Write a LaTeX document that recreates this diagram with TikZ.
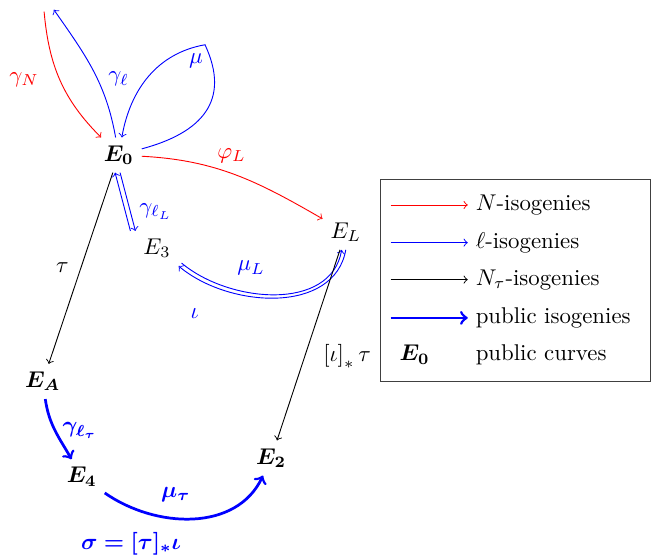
\documentclass[tikz,border=0pt]{standalone}
\usepackage{amsmath,amssymb,bm}

\begin{document}
\begin{tikzpicture}[nis/.style={->,red},lis/.style={->,blue},tis/.style={->,black},pub/.style={->,blue,very thick}]
  \useasboundingbox (0,0) rectangle (10.05,8.58);
  \node (E0) at (1.83,6.19) {$\bm{E_0}$};
  \node (E3) at (2.42,4.75) {$E_3$};
  \node (EL) at (5.33,5.00) {$E_L$};
  \node (EA) at (0.66,2.70) {$\bm{E_A}$};
  \node (E4) at (1.26,1.23) {$\bm{E_4}$};
  \node (E2) at (4.18,1.52) {$\bm{E_2}$};
  \coordinate (nN) at (0.68,8.40);
  \coordinate (nL) at (0.83,8.43);
  \coordinate (mtop) at (3.16,7.89);
  % secret part
  \draw[nis] (nN) to[out=-85,in=135] (E0);
  \draw[lis] (E0) to[out=100,in=-55] (nL);
  \draw[lis] (E0) to[out=15,in=-65,looseness=1.3] (mtop) to[out=190,in=80] (E0);
  \draw[nis] (E0) to[out=-3,in=150] (EL);
  \draw[lis] ([xshift=-2.2pt]E3.north west) -- ([xshift=-1.6pt]E0.south);
  \draw[lis] ([xshift=0.6pt]E0.south) -- (E3.north west);
  \draw[lis] (EL.south) to[out=-100,in=-40] (E3.south east);
  \draw[lis] ([shift={(1.3pt,1.3pt)}]E3.south east) to[out=-40,in=-100] ([xshift=-1.8pt]EL.south);
  \draw[tis] (E0) -- (EA);
  \draw[tis] (EL) -- (E2);
  % public part
  \draw[pub] (EA) to[out=-82,in=120] (E4);
  \draw[pub] (E4) to[out=-35,in=-115] (E2);
  % labels
  \node[red] (lgN) at (0.37,7.35) {$\gamma_N$};
  \node[blue] (lgl) at (1.83,7.36) {$\gamma_\ell$};
  \node[blue] (lmu) at (3.02,7.64) {$\mu$};
  \node[red] (lphi) at (3.57,6.18) {$\varphi_L$};
  \node[blue] (lglL) at (2.40,5.32) {$\gamma_{\ell_L}$};
  \node[blue] (lmuL) at (3.87,4.45) {$\mu_L$};
  \node[blue] (liota) at (3.00,3.74) {$\iota$};
  \node (ltau) at (0.96,4.45) {$\tau$};
  \node (lit) at (5.35,3.09) {$\left[\iota\right]_*\tau$};
  \node[blue] (lglt) at (1.23,1.94) {$\bm{\gamma_{\ell_\tau}}$};
  \node[blue] (lmut) at (2.71,0.96) {$\bm{\mu_\tau}$};
  \node[blue] (lsig) at (2.02,0.20) {$\bm{\sigma=[\tau]_*\iota}$};
  % legend
  \draw[black!75] (5.87,2.70) rectangle (10.03,5.82);
  \node[anchor=west] (t1) at (7.21,5.42) {$N$-isogenies};
  \node[anchor=west] (t2) at (7.21,4.84) {$\ell$-isogenies};
  \node[anchor=west] (t3) at (7.21,4.27) {$N_\tau$-isogenies};
  \node[anchor=west] (t4) at (7.21,3.68) {public isogenies};
  \node[anchor=west] (t5) at (7.21,3.11) {public curves};
  \node (k5) at (6.39,3.11) {$\bm{E_0}$};
  \coordinate (a1) at (6.02,5.42);
  \coordinate (a2) at (6.02,4.84);
  \coordinate (a3) at (6.02,4.27);
  \coordinate (a4) at (6.02,3.68);
  \draw[nis] (a1) -- (t1.west);
  \draw[lis] (a2) -- (t2.west);
  \draw[tis] (a3) -- (t3.west);
  \draw[pub] (a4) -- (t4.west);
\end{tikzpicture}
\end{document}
